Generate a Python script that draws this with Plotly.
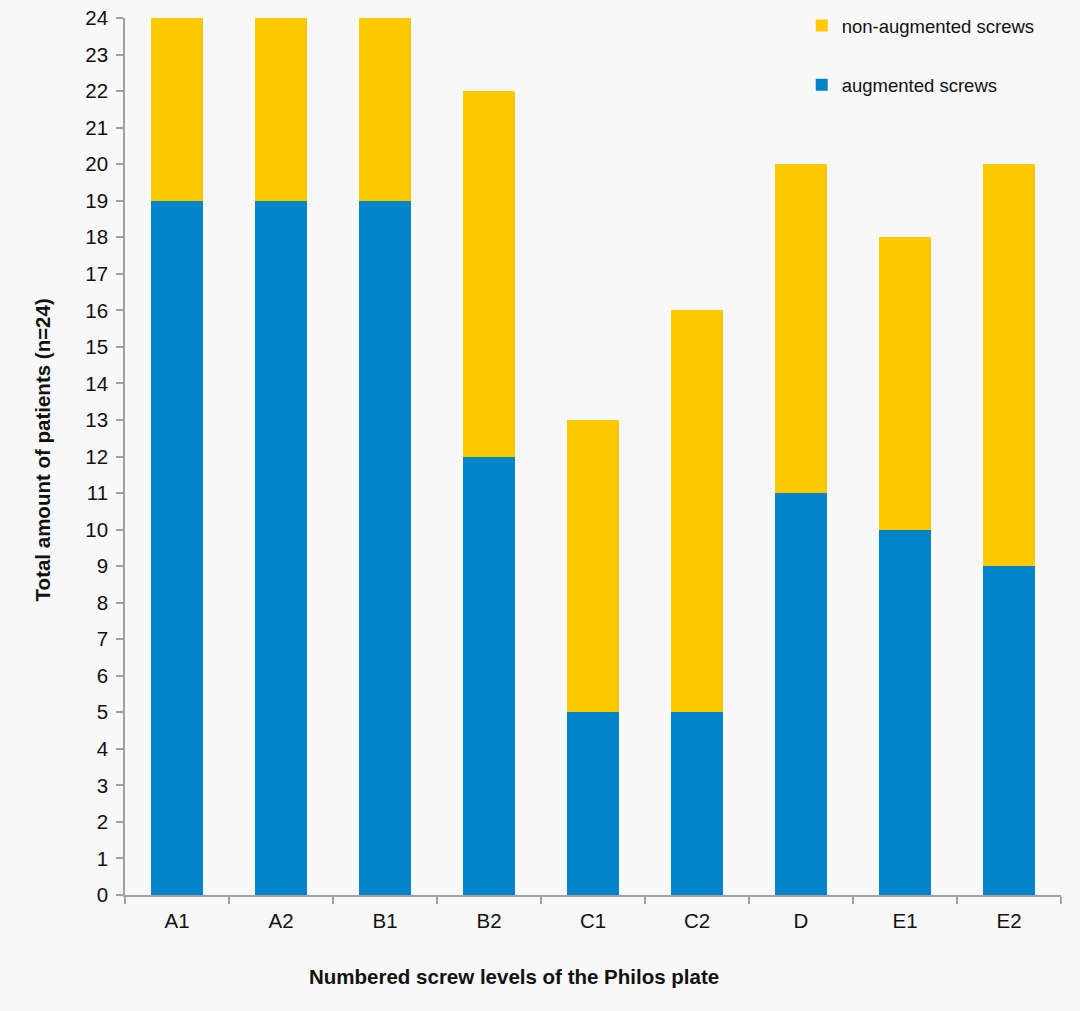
import plotly.graph_objects as go

categories = ["A1", "A2", "B1", "B2", "C1", "C2", "D", "E1", "E2"]
augmented = [19, 19, 19, 12, 5, 5, 11, 10, 9]
non_augmented = [5, 5, 5, 10, 8, 11, 9, 8, 11]
y_ticks = list(range(0, 25))

BLUE = "#0085CB"
YELLOW = "#FFC900"
FONT = "Liberation Sans, Arial, sans-serif"
BG = "#f8f8f8"

fig = go.Figure()
fig.add_trace(go.Bar(x=categories, y=augmented, name="augmented screws",
                     marker=dict(color=BLUE, line=dict(width=0)),
                     legendgroup="a", legendrank=2))
fig.add_trace(go.Bar(x=categories, y=non_augmented, name="non-augmented screws",
                     marker=dict(color=YELLOW, line=dict(width=0)),
                     legendgroup="b", legendrank=1))

fig.update_layout(
    width=1080, height=1011,
    barmode="stack", bargap=0.5,
    paper_bgcolor=BG, plot_bgcolor=BG,
    margin=dict(l=125, r=19, t=18, b=116, autoexpand=False),
    font=dict(family=FONT, size=20.5, color="#111"),
    legend=dict(x=0.723, y=0.993, xref="paper", yref="container",
                xanchor="left", yanchor="top",
                traceorder="grouped", tracegroupgap=32,
                font=dict(size=18.5), bgcolor="rgba(0,0,0,0)",
                itemwidth=30),
    xaxis=dict(showline=True, linecolor="#a0a0a0", linewidth=1.5,
               ticks="outside", tickson="boundaries", ticklen=7, tickcolor="#a0a0a0",
               tickwidth=1.5, showgrid=False, tickfont=dict(size=20.5),
               ticklabelstandoff=7),
    yaxis=dict(range=[0, 24], tickvals=y_ticks, showline=True, linecolor="#a0a0a0",
               linewidth=1.5, ticks="outside", ticklen=7, tickcolor="#a0a0a0",
               tickwidth=1.5, showgrid=False, zeroline=False, tickfont=dict(size=20.5),
               ticklabelstandoff=4),
    annotations=[
        dict(text="<b>Total amount of patients (n=24)</b>", xref="paper", yref="paper",
             x=-0.0877, y=0.508, textangle=-90, showarrow=False, font=dict(size=20.5),
             xanchor="center", yanchor="middle"),
        dict(text="<b>Numbered screw levels of the Philos plate</b>", xref="paper", yref="paper",
             x=0.416, y=-0.093, showarrow=False, font=dict(size=20.5),
             xanchor="center", yanchor="middle"),
    ],
)

fig.write_html("out.html", config={"displayModeBar": False},
               post_script="document.body.style.margin='0';document.body.style.background='%s';" % BG)
